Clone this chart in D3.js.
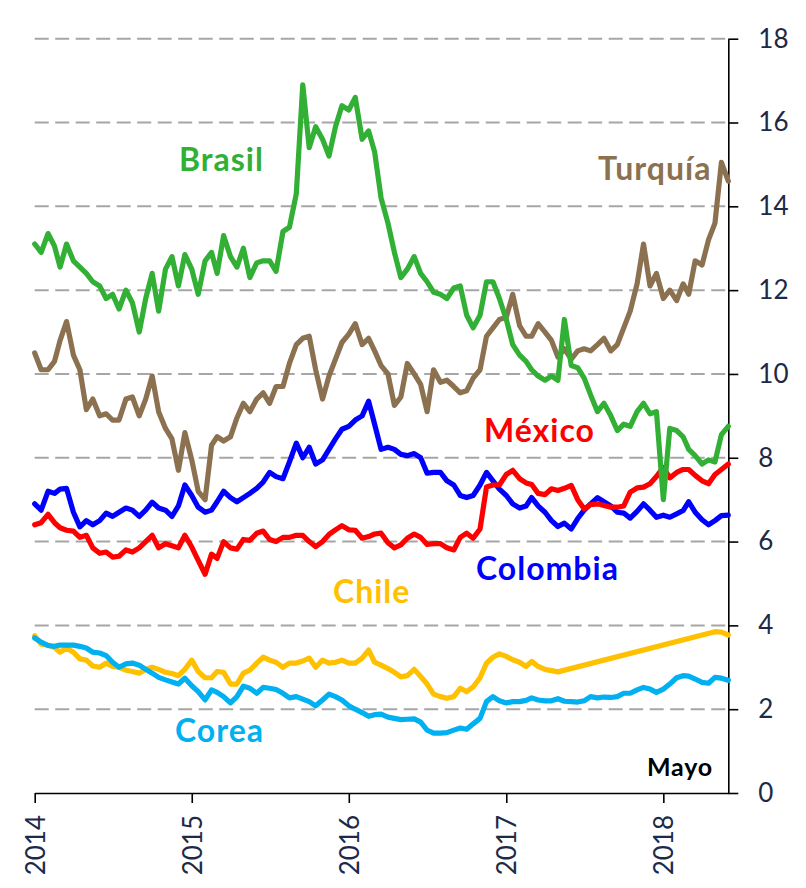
<!DOCTYPE html>
<html lang="es">
<head>
<meta charset="utf-8">
<title>Tasas de interés</title>
<script src="https://cdn.jsdelivr.net/npm/d3@7"></script>
<style>
  html, body { margin:0; padding:0; background:#fff; }
  svg { display:block; }
  .grid line { stroke:#a6a6a6; stroke-width:2; stroke-dasharray:14,6.5; }
  .axis path, .axis line { stroke:#000; stroke-width:1.6; }
  .axis text { font-family: Lato, 'Open Sans', sans-serif; font-size:26px; fill:#1c2a48; }
  .serie { fill:none; stroke-width:5.2; stroke-linejoin:round; stroke-linecap:round; }
  .lbl { font-family: Lato, 'Open Sans', sans-serif; font-weight:700; font-size:32px; letter-spacing:1px; }
</style>
</head>
<body>
<svg id="chart" width="806" height="888"></svg>
<script>
/* ── datos (quincenales) ── */
const dates = [
  "2014-01-01","2014-01-16","2014-02-01","2014-02-16","2014-03-01","2014-03-16","2014-04-01","2014-04-16","2014-05-01","2014-05-16","2014-06-01","2014-06-16",
  "2014-07-01","2014-07-16","2014-08-01","2014-08-16","2014-09-01","2014-09-16","2014-10-01","2014-10-16","2014-11-01","2014-11-16","2014-12-01","2014-12-16",
  "2015-01-01","2015-01-16","2015-02-01","2015-02-16","2015-03-01","2015-03-16","2015-04-01","2015-04-16","2015-05-01","2015-05-16","2015-06-01","2015-06-16",
  "2015-07-01","2015-07-16","2015-08-01","2015-08-16","2015-09-01","2015-09-16","2015-10-01","2015-10-16","2015-11-01","2015-11-16","2015-12-01","2015-12-16",
  "2016-01-01","2016-01-16","2016-02-01","2016-02-16","2016-03-01","2016-03-16","2016-04-01","2016-04-16","2016-05-01","2016-05-16","2016-06-01","2016-06-16",
  "2016-07-01","2016-07-16","2016-08-01","2016-08-16","2016-09-01","2016-09-16","2016-10-01","2016-10-16","2016-11-01","2016-11-16","2016-12-01","2016-12-16",
  "2017-01-01","2017-01-16","2017-02-01","2017-02-16","2017-03-01","2017-03-16","2017-04-01","2017-04-16","2017-05-01","2017-05-16","2017-06-01","2017-06-16",
  "2017-07-01","2017-07-16","2017-08-01","2017-08-16","2017-09-01","2017-09-16","2017-10-01","2017-10-16","2017-11-01","2017-11-16","2017-12-01","2017-12-16",
  "2018-01-01","2018-01-16","2018-02-01","2018-02-16","2018-03-01","2018-03-16","2018-04-01","2018-04-16","2018-05-01","2018-05-16","2018-06-01"
];

const brasil = [
  13.1, 12.9, 13.35, 13.05, 12.55, 13.1, 12.7, 12.55, 12.4, 12.2, 12.1, 11.8,
  11.9, 11.55, 12.0, 11.7, 11.0, 11.8, 12.4, 11.5, 12.5, 12.8, 12.1, 12.85,
  12.5, 11.9, 12.7, 12.9, 12.4, 13.3, 12.8, 12.55, 13.0, 12.3, 12.65, 12.7,
  12.7, 12.45, 13.4, 13.5, 14.3, 16.9, 15.4, 15.9, 15.6, 15.2, 15.9, 16.4,
  16.3, 16.6, 15.6, 15.8, 15.3, 14.2, 13.6, 12.9, 12.3, 12.5, 12.8, 12.4,
  12.2, 11.95, 11.9, 11.8, 12.05, 12.1, 11.4, 11.1, 11.4, 12.2, 12.2, 11.8,
  11.3, 10.7, 10.45, 10.3, 10.1, 9.95, 9.85, 9.95, 9.85, 11.3, 10.2, 10.15,
  9.9, 9.5, 9.1, 9.3, 9.0, 8.65, 8.8, 8.75, 9.1, 9.3, 9.05, 9.1,
  7.0, 8.7, 8.65, 8.5, 8.2, 8.05, 7.85, 7.95, 7.9, 8.55, 8.75
];
const turquia = [
  10.5, 10.1, 10.1, 10.3, 10.8, 11.25, 10.45, 10.1, 9.15, 9.4, 9.0, 9.05,
  8.9, 8.9, 9.4, 9.45, 9.0, 9.4, 9.95, 9.1, 8.7, 8.45, 7.7, 8.6,
  7.95, 7.2, 7.0, 8.3, 8.5, 8.4, 8.5, 8.95, 9.3, 9.1, 9.4, 9.55,
  9.3, 9.7, 9.7, 10.25, 10.7, 10.85, 10.9, 10.1, 9.4, 9.95, 10.35, 10.75,
  10.95, 11.2, 10.7, 10.85, 10.55, 10.2, 10.0, 9.25, 9.45, 10.25, 10.0, 9.75,
  9.1, 10.1, 9.8, 9.85, 9.7, 9.55, 9.6, 9.9, 10.1, 10.9, 11.1, 11.3,
  11.35, 11.9, 11.15, 10.9, 10.9, 11.2, 11.0, 10.8, 10.4, 10.6, 10.35, 10.55,
  10.6, 10.55, 10.7, 10.85, 10.55, 10.7, 11.1, 11.5, 12.15, 13.1, 12.1, 12.4,
  11.8, 12.0, 11.75, 12.15, 11.9, 12.7, 12.6, 13.2, 13.6, 15.05, 14.6
];
const colombia = [
  6.9, 6.75, 7.2, 7.15, 7.25, 7.27, 6.7, 6.35, 6.5, 6.4, 6.5, 6.68,
  6.6, 6.7, 6.8, 6.75, 6.6, 6.75, 6.94, 6.8, 6.75, 6.6, 6.85, 7.35,
  7.1, 6.82, 6.7, 6.75, 6.95, 7.2, 7.05, 6.95, 7.05, 7.15, 7.27, 7.42,
  7.65, 7.55, 7.5, 7.9, 8.35, 8.0, 8.25, 7.85, 7.95, 8.2, 8.45, 8.68,
  8.75, 8.9, 9.0, 9.35, 8.8, 8.2, 8.25, 8.2, 8.08, 8.05, 8.1, 8.0,
  7.63, 7.65, 7.65, 7.45, 7.35, 7.1, 7.05, 7.1, 7.35, 7.65, 7.45, 7.25,
  7.1, 6.9, 6.8, 6.85, 7.05, 6.85, 6.7, 6.5, 6.36, 6.44, 6.3, 6.55,
  6.75, 6.9, 7.05, 6.95, 6.85, 6.7, 6.68, 6.56, 6.72, 6.9, 6.75, 6.58,
  6.63, 6.58, 6.66, 6.74, 6.95, 6.7, 6.52, 6.4, 6.5, 6.62, 6.63
];
const mexico = [
  6.4, 6.45, 6.65, 6.45, 6.33, 6.27, 6.25, 6.1, 6.15, 5.85, 5.72, 5.75,
  5.63, 5.65, 5.8, 5.75, 5.85, 6.0, 6.15, 5.85, 5.95, 5.9, 5.85, 6.15,
  5.87, 5.55, 5.22, 5.7, 5.6, 6.0, 5.85, 5.82, 6.05, 6.03, 6.2, 6.25,
  6.05, 6.0, 6.1, 6.1, 6.15, 6.15, 6.0, 5.88, 6.0, 6.17, 6.28, 6.38,
  6.28, 6.27, 6.08, 6.12, 6.18, 6.2, 5.97, 5.85, 5.92, 6.08, 6.18, 6.1,
  5.93, 5.95, 5.95, 5.85, 5.8, 6.1, 6.2, 6.08, 6.3, 7.3, 7.35, 7.35,
  7.6, 7.7, 7.5, 7.4, 7.36, 7.15, 7.12, 7.26, 7.22, 7.27, 7.34, 7.0,
  6.78, 6.88, 6.9, 6.86, 6.82, 6.82, 6.85, 7.18, 7.28, 7.3, 7.38, 7.55,
  7.77, 7.52, 7.65, 7.72, 7.72, 7.58, 7.45, 7.38, 7.6, 7.72, 7.85
];
// Chile: sin datos entre mayo 2017 y mayo 2018 (se une con recta)
const chile = [
  3.75, 3.55, 3.53, 3.47, 3.36, 3.46, 3.36, 3.2, 3.17, 3.03, 3.0, 3.1,
  3.02, 3.0, 2.93, 2.9, 2.86, 2.95, 3.0, 2.95, 2.88, 2.85, 2.8, 2.95,
  3.17, 2.9, 2.75, 2.75, 2.9, 2.88, 2.6, 2.6, 2.86, 2.93, 3.1, 3.24,
  3.17, 3.12, 3.0, 3.1, 3.1, 3.15, 3.22, 3.0, 3.17, 3.1, 3.12, 3.17,
  3.1, 3.1, 3.22, 3.41, 3.12, 3.05, 2.97, 2.88, 2.77, 2.8, 2.95, 2.78,
  2.6, 2.36, 2.3, 2.26, 2.3, 2.5, 2.42, 2.53, 2.75, 3.1, 3.24, 3.32,
  3.26, 3.18, 3.12, 3.02, 3.14, 3.02, 2.95, 2.92, 2.89, null, null, null,
  null, null, null, null, null, null, null, null, null, null, null, null,
  null, null, null, null, null, null, null, null, 3.85, 3.84, 3.77
];
const corea = [
  3.7, 3.6, 3.52, 3.5, 3.53, 3.53, 3.53, 3.5, 3.46, 3.36, 3.34, 3.28,
  3.12, 3.0, 3.08, 3.1, 3.05, 2.95, 2.86, 2.76, 2.7, 2.65, 2.6, 2.74,
  2.56, 2.42, 2.22, 2.46, 2.4, 2.3, 2.15, 2.3, 2.55, 2.5, 2.38, 2.52,
  2.5, 2.47, 2.38, 2.27, 2.3, 2.24, 2.18, 2.08, 2.22, 2.36, 2.3, 2.22,
  2.08, 2.0, 1.92, 1.83, 1.87, 1.88, 1.81, 1.78, 1.75, 1.76, 1.77, 1.69,
  1.5, 1.43, 1.43, 1.44, 1.5, 1.55, 1.52, 1.65, 1.78, 2.18, 2.3, 2.2,
  2.15, 2.18, 2.18, 2.21, 2.27, 2.22, 2.2, 2.2, 2.25, 2.19, 2.18, 2.17,
  2.2, 2.3, 2.27, 2.29, 2.28, 2.3, 2.38, 2.38, 2.46, 2.52, 2.48, 2.4,
  2.48, 2.6, 2.75, 2.8, 2.79, 2.72, 2.64, 2.62, 2.76, 2.74, 2.69
];

const yearTicks = ["2014-01-01","2015-01-01","2016-01-01","2017-01-01","2018-01-01"];
const yTicks    = [0, 2, 4, 6, 8, 10, 12, 14, 16, 18];
const gridVals  = [2, 4, 6, 8, 10, 12, 14, 16, 18];

// orden de dibujo: el último queda encima
const SERIES = [
  { name:'Chile',    values:chile,    color:'#ffc000' },
  { name:'Corea',    values:corea,    color:'#00b0f0' },
  { name:'Colombia', values:colombia, color:'#0000ff' },
  { name:'México',   values:mexico,   color:'#ff0000' },
  { name:'Turquía',  values:turquia,  color:'#8b7150' },
  { name:'Brasil',   values:brasil,   color:'#31b035' },
];

// posición de las etiquetas (px)
const LABEL_POS = {
  'Brasil':   [179, 171],
  'Turquía':  [598, 180],
  'México':   [484, 442],
  'Colombia': [476, 580],
  'Chile':    [333, 603],
  'Corea':    [175, 742],
};

function drawChart() {
  const parse = d3.utcParse('%Y-%m-%d');
  const svg = d3.select('#chart');

  const x = d3.scaleUtc()
    .domain([parse('2014-01-01'), parse('2018-06-01')])
    .range([34.7, 728.3]);
  const y = d3.scaleLinear().domain([0, 18]).range([793, 38.7]);

  // grilla
  svg.append('g').attr('class', 'grid')
    .selectAll('line').data(gridVals).join('line')
    .attr('x1', x.range()[0]).attr('x2', x.range()[1])
    .attr('y1', d => y(d)).attr('y2', d => y(d));

  // ejes
  const xAxis = svg.append('g').attr('class', 'axis')
    .attr('transform', `translate(0,${y(0)})`)
    .call(d3.axisBottom(x)
      .tickValues(yearTicks.map(parse))
      .tickFormat(d3.utcFormat('%Y'))
      .tickSize(10).tickSizeOuter(0));
  xAxis.selectAll('text')
    .attr('transform', 'rotate(-90)')
    .attr('text-anchor', 'end')
    .attr('x', -22).attr('y', 0).attr('dy', '0.36em');

  svg.append('g').attr('class', 'axis')
    .attr('transform', `translate(${x.range()[1]},0)`)
    .call(d3.axisRight(y).tickValues(yTicks).tickSize(10).tickPadding(20).tickSizeOuter(0));

  // series
  const line = d3.line()
    .x(d => x(d.date))
    .y(d => y(d.v));

  SERIES.forEach(s => {
    const pts = dates.map((d, i) => ({ date: parse(d), v: s.values[i] }))
      .filter(p => p.v != null);
    svg.append('path')
      .datum(pts)
      .attr('class', 'serie')
      .attr('stroke', s.color)
      .attr('d', line);
  });

  // etiquetas
  SERIES.forEach(s => {
    const [lx, ly] = LABEL_POS[s.name];
    svg.append('text')
      .attr('class', 'lbl')
      .attr('x', lx).attr('y', ly)
      .attr('fill', s.color)
      .text(s.name);
  });

  svg.append('text')
    .attr('class', 'lbl')
    .attr('x', 647).attr('y', 776)
    .style('font-size', '25px')
    .style('letter-spacing', '0.8px')
    .attr('fill', '#000')
    .text('Mayo');
}

drawChart();
</script>
</body>
</html>
